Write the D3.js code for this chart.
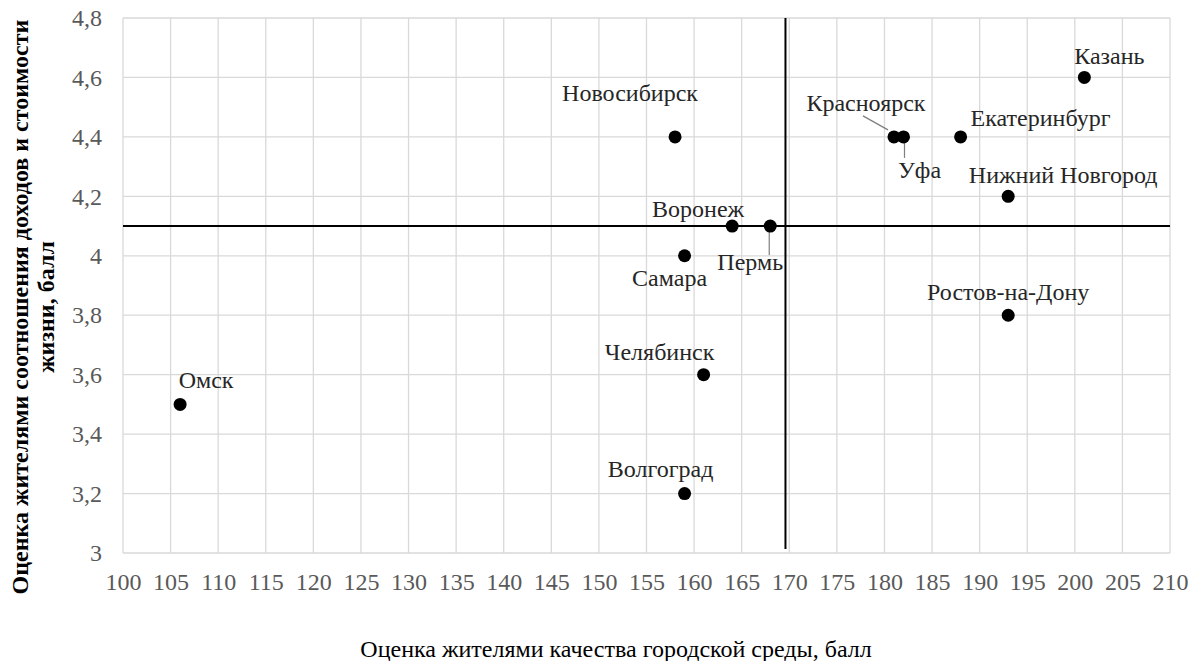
<!DOCTYPE html>
<html>
<head>
<meta charset="utf-8">
<script src="https://cdn.jsdelivr.net/npm/d3@7"></script>
<style>
  body { margin: 0; background: #fff; }
  svg { display: block; }
  svg text { font-family: "Liberation Serif", "Times New Roman", "DejaVu Serif", serif; }
</style>
</head>
<body>
<div class="chart"></div>
<script>
// city scores: quality of urban environment (x) vs income / cost of living (y)
const cities = ["Омск", "Новосибирск", "Красноярск", "Уфа", "Екатеринбург", "Нижний Новгород",
  "Казань", "Воронеж", "Пермь", "Самара", "Челябинск", "Волгоград", "Ростов-на-Дону"];
const envScore = [106, 158, 181, 182, 188, 193, 201, 164, 168, 159, 161, 159, 193];
const incomeScore = [3.5, 4.4, 4.4, 4.4, 4.4, 4.2, 4.6, 4.1, 4.1, 4.0, 3.6, 3.2, 3.8];

const xTicks = [100, 105, 110, 115, 120, 125, 130, 135, 140, 145, 150, 155, 160, 165, 170,
  175, 180, 185, 190, 195, 200, 205, 210];
const yTicks = [3, 3.2, 3.4, 3.6, 3.8, 4, 4.2, 4.4, 4.6, 4.8];

// quadrant divider lines
const refX = 169.6;
const refY = 4.1;

const xTitle = "Оценка жителями качества городской среды, балл";
const yTitle = ["Оценка жителями соотношения доходов и стоимости", "жизни, балл"];

// label placement (pixel offset of text centre from the dot), plus leader lines
const labelPos = {
  "Омск": [26, -24],
  "Новосибирск": [-45, -44],
  "Красноярск": [-28, -34, "lead"],
  "Уфа": [16, 33, "lead"],
  "Екатеринбург": [80, -19],
  "Нижний Новгород": [55, -21],
  "Казань": [25, -21],
  "Воронеж": [-34, -17],
  "Пермь": [-20, 36, "lead"],
  "Самара": [-15, 22],
  "Челябинск": [-44, -23],
  "Волгоград": [-24, -25],
  "Ростов-на-Дону": [0, -23]
};

const width = 1195, height = 661;
const plotL = 123, plotR = 1170, plotT = 18, plotB = 553;
const fs = 24;

const svg = d3.select(".chart").append("svg")
  .attr("width", width)
  .attr("height", height);

const x = d3.scaleLinear().domain([100, 210]).range([plotL, plotR]);
const y = d3.scaleLinear().domain([3, 4.8]).range([plotB, plotT]);

const comma = v => String(+v.toFixed(1)).replace(".", ",");

// grid
svg.append("g")
  .selectAll("line")
  .data(xTicks)
  .join("line")
  .attr("x1", d => x(d)).attr("x2", d => x(d))
  .attr("y1", plotT).attr("y2", plotB)
  .attr("stroke", "#d9d9d9").attr("stroke-width", 1.3);

svg.append("g")
  .selectAll("line")
  .data(yTicks)
  .join("line")
  .attr("x1", plotL).attr("x2", plotR)
  .attr("y1", d => y(d)).attr("y2", d => y(d))
  .attr("stroke", "#d9d9d9").attr("stroke-width", 1.3);

// axes (labels only, lines come from the grid)
const xAxis = svg.append("g")
  .attr("transform", `translate(0,${plotB})`)
  .call(d3.axisBottom(x).tickValues(xTicks).tickSize(0).tickPadding(20).tickFormat(d => d));
const yAxis = svg.append("g")
  .attr("transform", `translate(${plotL},0)`)
  .call(d3.axisLeft(y).tickValues(yTicks).tickSize(0).tickPadding(21).tickFormat(comma));
[xAxis, yAxis].forEach(a => {
  a.attr("font-family", null).attr("font-size", null);
  a.select(".domain").remove();
  a.selectAll("text")
    .attr("font-size", fs)
    .attr("fill", "#595959");
});
xAxis.selectAll("text").attr("dy", null).attr("y", 29).attr("dominant-baseline", "central");

// quadrant lines
svg.append("line")
  .attr("x1", x(refX)).attr("x2", x(refX))
  .attr("y1", plotT).attr("y2", plotB - 4)
  .attr("stroke", "#000").attr("stroke-width", 2);
svg.append("line")
  .attr("x1", plotL).attr("x2", plotR)
  .attr("y1", y(refY)).attr("y2", y(refY))
  .attr("stroke", "#000").attr("stroke-width", 2);

const pts = cities.map((c, i) => ({ name: c, px: x(envScore[i]), py: y(incomeScore[i]) }));

// leader lines
svg.append("g")
  .selectAll("line")
  .data(pts.filter(p => labelPos[p.name][2]))
  .join("line")
  .attr("x1", p => p.name == "Красноярск" ? p.px - 31 : p.px + (p.name == "Уфа" ? 1 : -1))
  .attr("y1", p => p.name == "Красноярск" ? p.py - 21 : p.py + 3)
  .attr("x2", p => p.name == "Красноярск" ? p.px - 6 : p.px + (p.name == "Уфа" ? 1 : -1))
  .attr("y2", p => p.name == "Красноярск" ? p.py - 7 : p.py + 21 + (p.name == "Пермь" ? 8 : 0))
  .attr("stroke", "#7f7f7f").attr("stroke-width", 1.2);

// dots
svg.append("g")
  .selectAll("circle")
  .data(pts)
  .join("circle")
  .attr("cx", p => p.px)
  .attr("cy", p => p.py)
  .attr("r", 6.5)
  .attr("fill", "#000");

// city labels
svg.append("g")
  .selectAll("text")
  .data(pts)
  .join("text")
  .attr("x", p => p.px + labelPos[p.name][0])
  .attr("y", p => p.py + labelPos[p.name][1])
  .attr("text-anchor", "middle")
  .attr("dominant-baseline", "central")
  .attr("font-size", fs)
  .attr("fill", "#262626")
  .text(p => p.name);

// axis titles
svg.append("text")
  .attr("x", 616)
  .attr("y", 657)
  .attr("text-anchor", "middle")
  .attr("font-size", fs)
  .attr("fill", "#000")
  .text(xTitle);

svg.append("g")
  .attr("transform", "translate(20,307) rotate(-90)")
  .selectAll("text")
  .data(yTitle)
  .join("text")
  .attr("x", 0)
  .attr("y", (d, i) => i * 26)
  .attr("text-anchor", "middle")
  .attr("dominant-baseline", "central")
  .attr("font-size", fs)
  .attr("font-weight", "bold")
  .attr("fill", "#000")
  .text(d => d);
</script>
</body>
</html>
